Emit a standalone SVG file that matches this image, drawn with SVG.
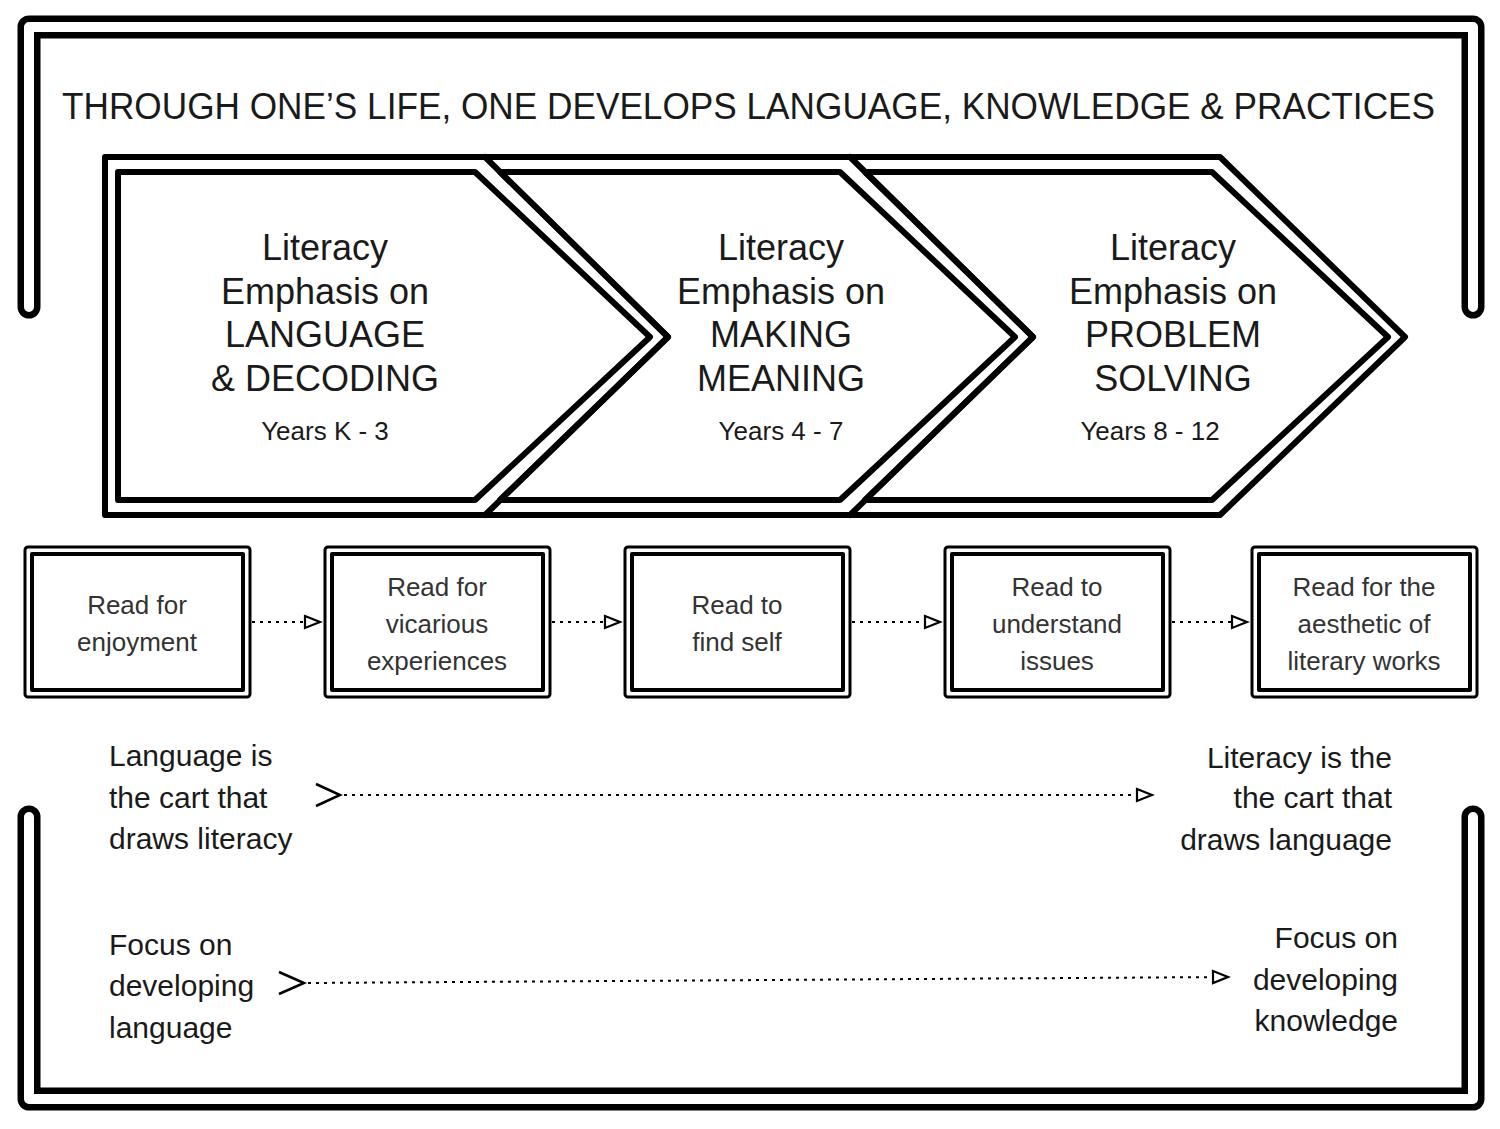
<svg xmlns="http://www.w3.org/2000/svg" width="1500" height="1129" viewBox="0 0 1500 1129">
<style>
text{font-family:"Liberation Sans",Arial,sans-serif;fill:#1a1a1a}
.t{font-size:36px;text-anchor:middle}
.y{font-size:26px;text-anchor:middle}
.b{font-size:26px;text-anchor:middle;fill:#333}
.s{font-size:30px}
.ln{fill:none;stroke:#000;stroke-linejoin:round;stroke-linecap:round}
.dot{fill:none;stroke:#000;stroke-width:2;stroke-dasharray:3,5}
</style>
<defs>
<marker id="tri" markerWidth="20" markerHeight="16" refX="17" refY="8" orient="auto" markerUnits="userSpaceOnUse">
<path d="M2,2 L17,8 L2,14 Z" fill="#fff" stroke="#000" stroke-width="2.2"/>
</marker>
</defs>
<g id="frame-top">
<path d="M29,307 V27 H1473 V307" fill="none" stroke="#000" stroke-width="23" stroke-linecap="round" stroke-linejoin="round"/>
<path d="M29,307 V27 H1473 V307" fill="none" stroke="#fff" stroke-width="10" stroke-linecap="round" stroke-linejoin="round"/>
</g>
<g id="frame-bottom">
<path d="M29,817 V1099 H1473 V817" fill="none" stroke="#000" stroke-width="23" stroke-linecap="round" stroke-linejoin="round"/>
<path d="M29,817 V1099 H1473 V817" fill="none" stroke="#fff" stroke-width="10" stroke-linecap="round" stroke-linejoin="round"/>
</g>
<text x="62" y="119" style="font-size:36px" textLength="1373" lengthAdjust="spacingAndGlyphs">THROUGH ONE’S LIFE, ONE DEVELOPS LANGUAGE, KNOWLEDGE &amp; PRACTICES</text>
<g id="chevrons">
<path class="ln" stroke-width="6" d="M105,157 H1220 L1405,337 L1220,515 H105 Z"/>
<path class="ln" stroke-width="6" d="M485,157 L668,337 L485,515"/>
<path class="ln" stroke-width="6" d="M850,157 L1033,337 L850,515"/>
</g>
<g id="chevron1">
<path class="ln" stroke-width="6" d="M118,172 H475 L650,337 L475,500 H118 Z"/>
<text class="t" x="325" y="260">Literacy</text>
<text class="t" x="325" y="304">Emphasis on</text>
<text class="t" x="325" y="347">LANGUAGE</text>
<text class="t" x="325" y="391">&amp; DECODING</text>
<text class="y" x="325" y="440">Years K - 3</text>
</g>
<g id="chevron2">
<path class="ln" stroke-width="6" d="M500,172 H840 L1015,337 L840,500 H500 L668,337 Z"/>
<text class="t" x="781" y="260">Literacy</text>
<text class="t" x="781" y="304">Emphasis on</text>
<text class="t" x="781" y="347">MAKING</text>
<text class="t" x="781" y="391">MEANING</text>
<text class="y" x="781" y="440">Years 4 - 7</text>
</g>
<g id="chevron3">
<path class="ln" stroke-width="6" d="M865,172 H1212 L1388,337 L1212,500 H865 L1033,337 Z"/>
<text class="t" x="1173" y="260">Literacy</text>
<text class="t" x="1173" y="304">Emphasis on</text>
<text class="t" x="1173" y="347">PROBLEM</text>
<text class="t" x="1173" y="391">SOLVING</text>
<text class="y" x="1150" y="440">Years 8 - 12</text>
</g>
<g id="box1">
<rect x="25" y="547" width="225" height="150" rx="3" class="ln" stroke-width="3"/>
<rect x="32" y="554" width="211" height="136" class="ln" stroke-width="4"/>
<text class="b" x="137" y="614">Read for</text><text class="b" x="137" y="651">enjoyment</text>
</g>
<g id="box2">
<rect x="325" y="547" width="225" height="150" rx="3" class="ln" stroke-width="3"/>
<rect x="332" y="554" width="211" height="136" class="ln" stroke-width="4"/>
<text class="b" x="437" y="596">Read for</text><text class="b" x="437" y="633">vicarious</text><text class="b" x="437" y="670">experiences</text>
</g>
<g id="box3">
<rect x="625" y="547" width="225" height="150" rx="3" class="ln" stroke-width="3"/>
<rect x="632" y="554" width="211" height="136" class="ln" stroke-width="4"/>
<text class="b" x="737" y="614">Read to</text><text class="b" x="737" y="651">find self</text>
</g>
<g id="box4">
<rect x="945" y="547" width="225" height="150" rx="3" class="ln" stroke-width="3"/>
<rect x="952" y="554" width="211" height="136" class="ln" stroke-width="4"/>
<text class="b" x="1057" y="596">Read to</text><text class="b" x="1057" y="633">understand</text><text class="b" x="1057" y="670">issues</text>
</g>
<g id="box5">
<rect x="1252" y="547" width="225" height="150" rx="3" class="ln" stroke-width="3"/>
<rect x="1259" y="554" width="211" height="136" class="ln" stroke-width="4"/>
<text class="b" x="1364" y="596">Read for the</text><text class="b" x="1364" y="633">aesthetic of</text><text class="b" x="1364" y="670">literary works</text>
</g>
<g id="connectors">
<path class="dot" d="M252,622 H320" marker-end="url(#tri)"/>
<path class="dot" d="M552,622 H620" marker-end="url(#tri)"/>
<path class="dot" d="M852,622 H940" marker-end="url(#tri)"/>
<path class="dot" d="M1172,622 H1247" marker-end="url(#tri)"/>
<path d="M316,784 L340,795 L316,806" fill="none" stroke="#000" stroke-width="2.5"/>
<path class="dot" d="M344,795 H1152" marker-end="url(#tri)"/>
<path d="M279,972 L304,983 L279,994" fill="none" stroke="#000" stroke-width="2.5"/>
<path class="dot" d="M308,983 L1228,977" marker-end="url(#tri)"/>
</g>
<g id="left-texts">
<text class="s" x="109" y="766">Language is</text>
<text class="s" x="109" y="808">the cart that</text>
<text class="s" x="109" y="849">draws literacy</text>
<text class="s" x="109" y="955">Focus on</text>
<text class="s" x="109" y="996">developing</text>
<text class="s" x="109" y="1038">language</text>
</g>
<g id="right-texts" style="text-anchor:end">
<text class="s" x="1392" y="768">Literacy is the</text>
<text class="s" x="1392" y="808">the cart that</text>
<text class="s" x="1392" y="850">draws language</text>
<text class="s" x="1398" y="948">Focus on</text>
<text class="s" x="1398" y="990">developing</text>
<text class="s" x="1398" y="1031">knowledge</text>
</g>
</svg>
